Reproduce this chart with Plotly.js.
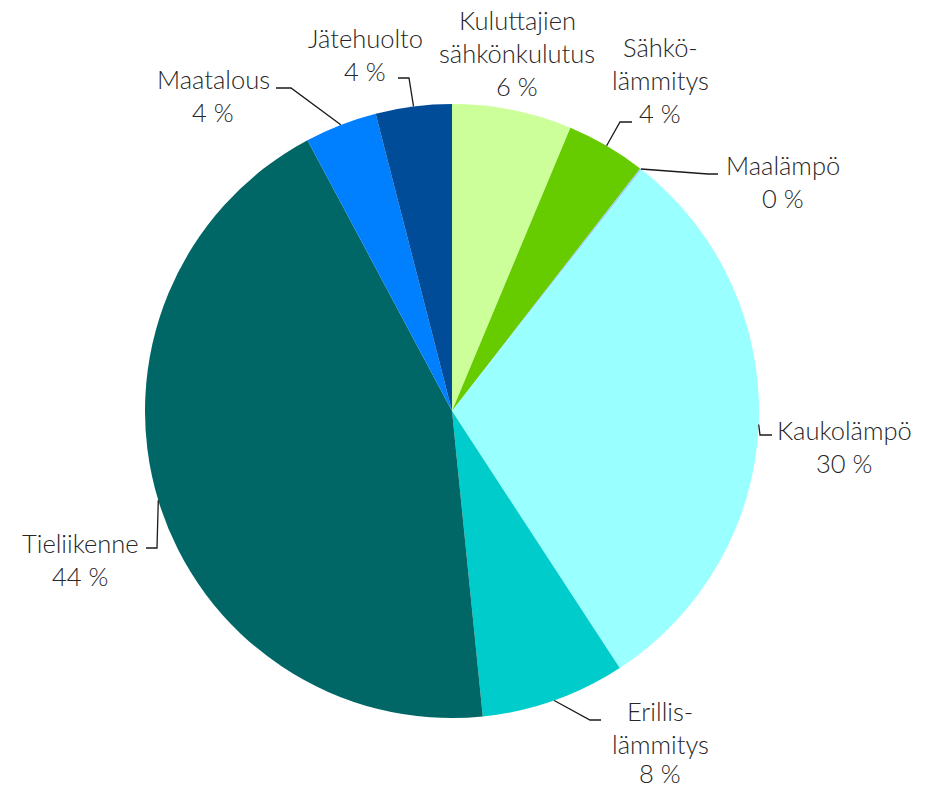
<!DOCTYPE html>
<html><head><meta charset="utf-8">
<script src="https://cdn.plot.ly/plotly-3.0.1.min.js"></script>
<style>body{margin:0;background:#fff}#c{width:938px;height:790px}</style>
</head><body><div id="c"></div>
<script>
// Data
const labels = ["Kuluttajien sähkönkulutus","Sähkölämmitys","Maalämpö","Kaukolämpö","Erillislämmitys","Tieliikenne","Maatalous","Jätehuolto"];
const labelLines = [["Kuluttajien","sähkönkulutus"],["Sähkö-","lämmitys"],["Maalämpö"],["Kaukolämpö"],["Erillis-","lämmitys"],["Tieliikenne"],["Maatalous"],["Jätehuolto"]];
const values = [6.3, 4.2, 0.1, 30.2, 7.6, 43.8, 3.8, 4.0];
const colors = ["#ccff99","#66cc00","#99ccff","#99ffff","#00cccc","#006666","#0080ff","#004c99"];

// Layout (pixel positions): label centre x, first line y
const W = 938, H = 790, CX = 452, CY = 411, R = 307, LINE = 33;
const labelPos = [[517,20],[660,47],[783,165],[844,430],[660,711],[80,543],[213,79],[365,38]];
// leader lines: elbow point and end point (null = no line)
const leaders = [null, [[620,122],[632,122]], [[708,174],[718,174]], [[760,435],[772,435]], [[590,720],[601,720]], [[157,548],[146,548]], [[291,88],[276,88]], [[409,78],[398,78]]];

const total = values.reduce((a,b)=>a+b,0);
let cum = 0;
const shapes = [], annotations = [];
const font = {family:'Lato, "Open Sans", sans-serif', size:25.5, color:'#262626', weight:300};
values.forEach((v,i)=>{
  const mid = (cum + v/2)/total*2*Math.PI; cum += v;
  const sx = CX + R*Math.sin(mid), sy = CY - R*Math.cos(mid);
  if (leaders[i]) {
    const [e, f] = leaders[i];
    shapes.push({type:'path', xref:'x', yref:'y', path:`M${sx},${sy} L${e[0]},${e[1]} L${f[0]},${f[1]}`, line:{color:'#1a1a1a', width:1.3}});
  }
  const lines = labelLines[i].concat([Math.round(v) + ' %']);
  lines.forEach((t,k)=>{
    annotations.push({xref:'x', yref:'y', x:labelPos[i][0], y:Math.min(labelPos[i][1] + k*LINE, 773), xanchor:'center', yanchor:'middle', showarrow:false,
      text:t, font:font});
  });
});

const data = [{
  type:'pie', labels:labels, values:values, sort:false, direction:'clockwise', rotation:0,
  marker:{colors:colors, line:{width:0}}, textinfo:'none', hoverinfo:'label+percent',
  domain:{x:[(CX-R)/W,(CX+R)/W], y:[(H-CY-R)/H,(H-CY+R)/H]}, showlegend:false
}];
const layout = {
  width:W, height:H, margin:{l:0,r:0,t:0,b:0}, paper_bgcolor:'#fff', plot_bgcolor:'rgba(0,0,0,0)',
  xaxis:{range:[0,W], visible:false, fixedrange:true},
  yaxis:{range:[H,0], visible:false, fixedrange:true},
  shapes:shapes, annotations:annotations, showlegend:false
};
Plotly.newPlot('c', data, layout, {displayModeBar:false, staticPlot:true});
</script></body></html>
